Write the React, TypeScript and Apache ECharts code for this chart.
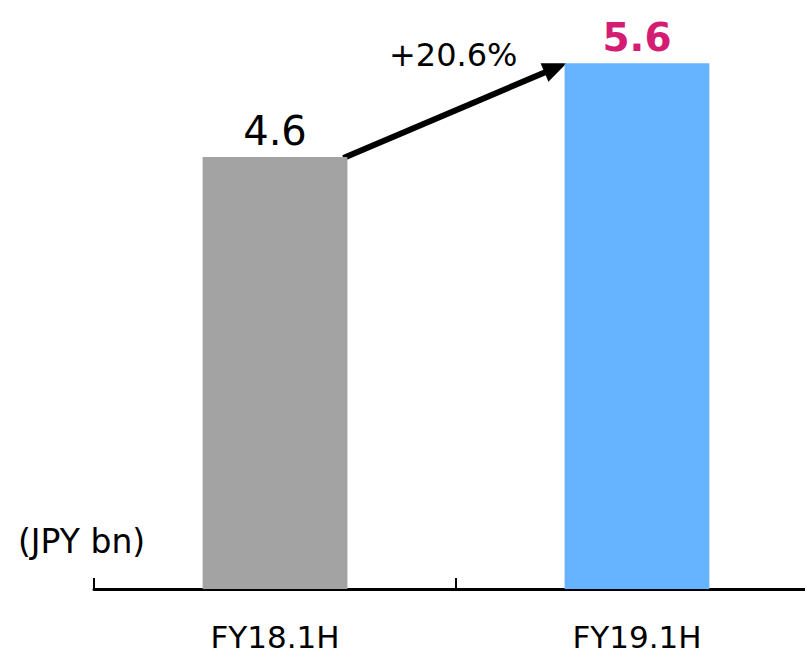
import React, { useEffect, useRef } from "react";
import * as echarts from "echarts";

const categories: string[] = ["FY18.1H", "FY19.1H"];
const values: number[] = [4.6, 5.6];
const barColors: string[] = ["#a3a3a3", "#66b3ff"];
const growthLabel = "+20.6%";
const unitLabel = "(JPY bn)";

const FONT = "'DejaVu Sans', Verdana, sans-serif";

export default function App() {
  const ref = useRef<HTMLDivElement>(null);

  useEffect(() => {
    if (!ref.current) return;
    const chart = echarts.init(ref.current, undefined, { renderer: "svg" });
    const unitText = {
      type: "text",
      left: 18,
      top: 525,
      style: { text: unitLabel, fontSize: 33, fontFamily: FONT, fill: "#000" },
    };
    const option: any = {
      animation: false,
      grid: { left: 94, top: 25.6, width: 724, height: 563.4 },
      xAxis: {
        type: "category",
        data: categories,
        boundaryGap: true,
        axisLine: { show: true, lineStyle: { color: "#000", width: 3 } },
        axisTick: { show: true, inside: true, length: 11, lineStyle: { color: "#000", width: 2 } },
        axisLabel: { color: "#000", fontSize: 31, fontFamily: FONT, margin: 32 },
      },
      yAxis: {
        type: "value",
        min: 0,
        max: 6,
        show: false,
        splitLine: { show: false },
      },
      series: [
        {
          type: "bar",
          barWidth: "40%",
          data: values.map((v, i) => ({
            value: v,
            itemStyle: { color: barColors[i] },
            label: {
              show: true,
              position: "top",
              distance: 6,
              fontFamily: FONT,
              fontSize: i === 0 ? 40 : 39,
              fontWeight: i === 0 ? "normal" : "bold",
              color: i === 0 ? "#000" : "#d31c72",
              formatter: (p: any) => p.value.toFixed(1),
            },
          })),
        },
      ],
      graphic: [unitText],
    };
    chart.setOption(option);

    const c0 = chart.convertToPixel({ seriesIndex: 0 }, [0, values[0]]) as number[];
    const c1 = chart.convertToPixel({ seriesIndex: 0 }, [1, values[1]]) as number[];
    const band = c1[0] - c0[0];
    const half = band * 0.2;
    const sx = c0[0] + half - 4;
    const sy = c0[1] + 1;
    const ex = c1[0] - half + 2;
    const ey = c1[1];
    const dx = ex - sx;
    const dy = ey - sy;
    const len = Math.sqrt(dx * dx + dy * dy);
    const ux = dx / len;
    const uy = dy / len;
    const headLen = 24;
    const headHalf = 10;
    const bx = ex - ux * headLen;
    const by = ey - uy * headLen;
    const px = -uy;
    const py = ux;

    chart.setOption({
      graphic: [
        unitText,
        {
          type: "line",
          shape: { x1: sx, y1: sy, x2: bx + ux * 2, y2: by + uy * 2 },
          style: { stroke: "#000", lineWidth: 6 },
        },
        {
          type: "polygon",
          shape: {
            points: [
              [ex, ey],
              [bx + px * headHalf, by + py * headHalf],
              [bx - px * headHalf, by - py * headHalf],
            ],
          },
          style: { fill: "#000" },
        },
        {
          type: "text",
          x: 389,
          y: 55,
          style: {
            text: growthLabel,
            fontSize: 32,
            fontFamily: FONT,
            fill: "#000",
            verticalAlign: "middle",
          },
        },
      ],
    });

    return () => chart.dispose();
  }, []);

  return (
    <div
      style={{ position: "fixed", left: 0, top: 0, width: 805, height: 653, overflow: "hidden", background: "#fff" }}
    >
      <div ref={ref} style={{ width: 830, height: 653 }} />
    </div>
  );
}
